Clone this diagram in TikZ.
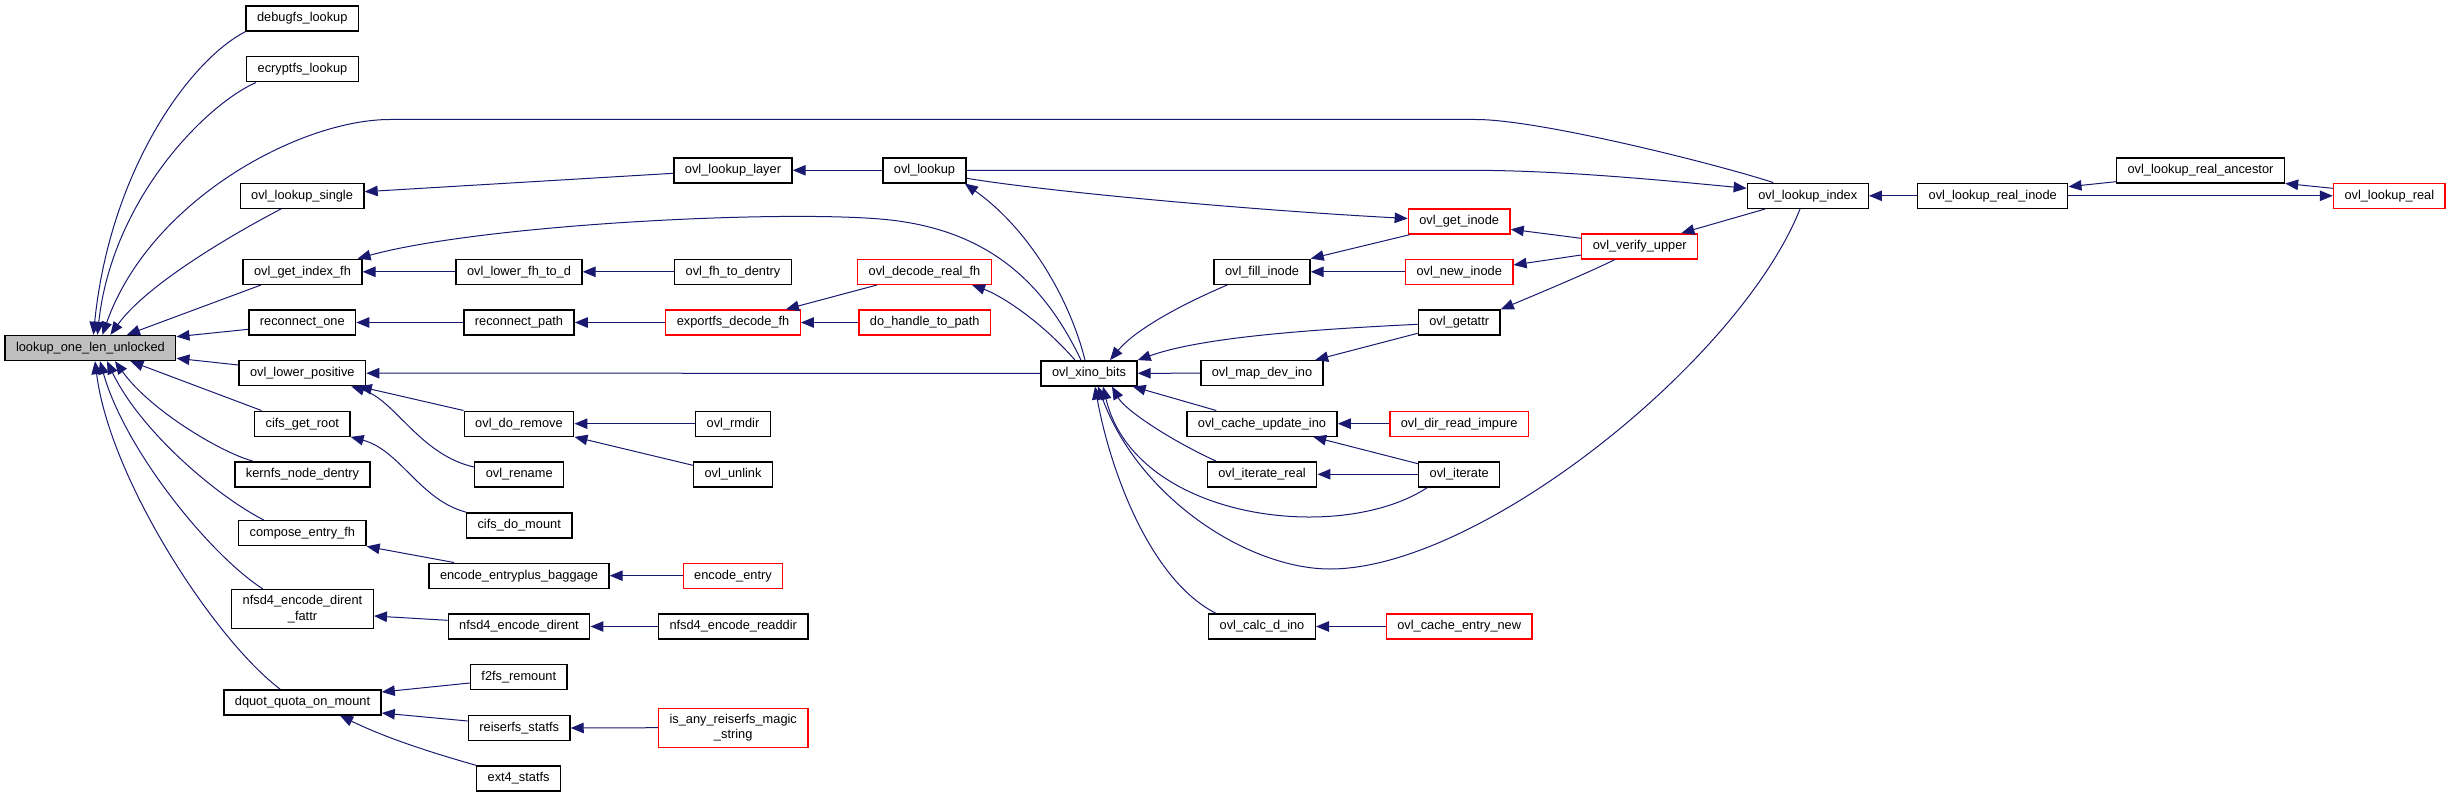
\documentclass[tikz,border=0pt]{standalone}
\usepackage{fontspec}
\setmainfont{Liberation Sans}
\usetikzlibrary{arrows.meta}
\definecolor{edgeblue}{RGB}{25,25,112}
\definecolor{rootgray}{RGB}{191,191,191}
\tikzset{
  fn/.style={draw=black,line width=1.4pt,fill=white,minimum height=25pt,
    inner xsep=11pt,inner ysep=0pt,font=\fontsize{12.8}{15.3}\selectfont},
  fnred/.style={fn,draw=red},
  fnroot/.style={fn,fill=rootgray},
  fntwo/.style={align=center,minimum height=39pt},
  call/.style={draw=edgeblue,line width=1pt,-{Triangle[length=13pt,width=10.5pt]}}
}

\begin{document}
\begin{tikzpicture}[x=1pt,y=-1pt]
  \useasboundingbox (0,0) rectangle (2451,797); % 画像と同じ大きさの枠

  \node[fnroot] (lookup) at (90.4,348) {lookup\_one\_len\_unlocked}; % 根の関数（灰色）

  % 第1列
  \node[fn] (debugfs) at (302.3,18.5) {debugfs\_lookup};
  \node[fn] (ecryptfs) at (302.5,69.3) {ecryptfs\_lookup};
  \node[fn] (lksingle) at (302.1,195.8) {ovl\_lookup\_single};
  \node[fn] (getidx) at (302.5,271.8) {ovl\_get\_index\_fh};
  \node[fn] (reconone) at (302.3,322.5) {reconnect\_one};
  \node[fn] (lowerpos) at (302.3,373.2) {ovl\_lower\_positive};
  \node[fn] (cifsroot) at (302.3,423.7) {cifs\_get\_root};
  \node[fn] (kernfs) at (302.5,474.3) {kernfs\_node\_dentry};
  \node[fn] (compose) at (302.3,533.2) {compose\_entry\_fh};
  \node[fn,fntwo] (fattr) at (302.5,609) {nfsd4\_encode\_dirent\\\_fattr}; % 2行の箱
  \node[fn] (dquot) at (302.5,702.3) {dquot\_quota\_on\_mount};

  % 第2列
  \node[fn] (lowerfh) at (519,271.8) {ovl\_lower\_fh\_to\_d};
  \node[fn] (reconpath) at (519,322.5) {reconnect\_path};
  \node[fn] (doremove) at (519,423.7) {ovl\_do\_remove};
  \node[fn] (rename) at (519.2,474.3) {ovl\_rename};
  \node[fn] (cifsmount) at (519.2,525.3) {cifs\_do\_mount};
  \node[fn] (baggage) at (519,575.7) {encode\_entryplus\_baggage};
  \node[fn] (dirent) at (519,626.5) {nfsd4\_encode\_dirent};
  \node[fn] (f2fs) at (518.8,677.2) {f2fs\_remount};
  \node[fn] (reiserfs) at (519.2,728) {reiserfs\_statfs};
  \node[fn] (ext4) at (518.6,778.5) {ext4\_statfs};

  % 第3列
  \node[fn] (lklayer) at (733,170.3) {ovl\_lookup\_layer};
  \node[fn] (fhdentry) at (733,271.8) {ovl\_fh\_to\_dentry};
  \node[fnred] (exportfs) at (733,322.5) {exportfs\_decode\_fh}; % 赤枠は省略された呼び出し元あり
  \node[fn] (rmdir) at (733,423.7) {ovl\_rmdir};
  \node[fn] (unlink) at (733,474.3) {ovl\_unlink};
  \node[fnred] (encentry) at (733,575.7) {encode\_entry};
  \node[fn] (readdir) at (733.2,626.5) {nfsd4\_encode\_readdir};
  \node[fnred,fntwo] (magic) at (733.2,727.7) {is\_any\_reiserfs\_magic\\\_string};

  % 第4・5列
  \node[fn] (ovllookup) at (924.5,170.3) {ovl\_lookup};
  \node[fnred] (decodefh) at (924.5,271.8) {ovl\_decode\_real\_fh};
  \node[fnred] (handle) at (924.7,322.5) {do\_handle\_to\_path};
  \node[fn] (xino) at (1089,373.3) {ovl\_xino\_bits};

  % 第6・7列
  \node[fn] (fillinode) at (1262,271.8) {ovl\_fill\_inode};
  \node[fn] (mapdev) at (1262,373.2) {ovl\_map\_dev\_ino};
  \node[fn] (cacheupd) at (1262,423.7) {ovl\_cache\_update\_ino};
  \node[fn] (iterreal) at (1262,474.3) {ovl\_iterate\_real};
  \node[fn] (calcdino) at (1262,626.5) {ovl\_calc\_d\_ino};
  \node[fnred] (getinode) at (1459.2,221.5) {ovl\_get\_inode};
  \node[fnred] (newinode) at (1459.2,271.8) {ovl\_new\_inode};
  \node[fn] (getattr) at (1459.2,322.5) {ovl\_getattr};
  \node[fnred] (dirimpure) at (1459.2,423.7) {ovl\_dir\_read\_impure};
  \node[fn] (iterate) at (1459.2,474.3) {ovl\_iterate};
  \node[fnred] (centrynew) at (1459.2,626.5) {ovl\_cache\_entry\_new};

  % 右側の列
  \node[fnred] (verify) at (1639.7,246.3) {ovl\_verify\_upper};
  \node[fn] (lkindex) at (1807.8,195.8) {ovl\_lookup\_index};
  \node[fn] (realinode) at (1992.7,195.8) {ovl\_lookup\_real\_inode};
  \node[fn] (ancestor) at (2200.5,170.3) {ovl\_lookup\_real\_ancestor};
  \node[fnred] (lkreal) at (2389.3,195.8) {ovl\_lookup\_real};

  % 根へ入る矢印（上側）
  \draw[call] (debugfs.south west) .. controls (190,60) and (110,170) .. ([xshift=3pt]lookup.north);
  \draw[call] ([xshift=10pt]ecryptfs.south west) .. controls (205,105) and (112,200) .. ([xshift=7pt]lookup.north);
  \draw[call] ([xshift=-34.5pt]lkindex.north) .. controls (1720,165) and (1540,119.5) .. (1476,119.5)
    -- (390,119.5) .. controls (300,119.5) and (150,200) .. ([xshift=12pt]lookup.north); % 最も長い辺
  \draw[call] ([xshift=41.5pt]lksingle.south west) .. controls (250,225) and (150,280) .. ([xshift=20pt]lookup.north);
  \draw[call] ([xshift=18.6pt]getidx.south west) -- ([xshift=36.6pt]lookup.north);
  % 根へ入る矢印（右側・下側）
  \draw[call] ([yshift=-6.8pt]reconone.west) -- ([yshift=11.3pt]lookup.east);
  \draw[call] ([yshift=8.2pt]lowerpos.west) -- ([yshift=-10.3pt]lookup.east);
  \draw[call] ([xshift=7.5pt]cifsroot.north west) -- ([xshift=40pt]lookup.south);
  \draw[call] ([xshift=18.5pt]kernfs.north west) .. controls (220,452) and (150,410) .. ([xshift=24.6pt]lookup.south);
  \draw[call] ([xshift=25.8pt]compose.north west) .. controls (215,495) and (140,430) .. ([xshift=16.6pt]lookup.south);
  \draw[call] ([xshift=31.7pt]fattr.north west) .. controls (210,555) and (125,450) .. ([xshift=9.6pt]lookup.south);
  \draw[call] ([xshift=56.9pt]dquot.north west) .. controls (215,640) and (110,480) .. ([xshift=4.6pt]lookup.south);

  % 第2列から第1列へ
  \draw[call] ([yshift=-3pt]lklayer.west) -- ([yshift=4.1pt]lksingle.east);
  \draw[call] (lowerfh.west) -- (getidx.east);
  \draw[call] (reconpath.west) -- (reconone.east);
  \draw[call] (doremove.north west) -- ([xshift=-7.5pt]lowerpos.south east);
  \draw[call] ([yshift=7.3pt]rename.west) .. controls (420,455) and (395,400) .. ([xshift=-15pt]lowerpos.south east);
  \draw[call] (cifsmount.north west) .. controls (420,500) and (400,450) .. (cifsroot.south east);
  \draw[call] ([xshift=25.7pt]baggage.north west) -- (compose.south east);
  \draw[call] ([yshift=6.2pt]dirent.west) -- ([yshift=-7pt]fattr.east);
  \draw[call] ([yshift=-5.8pt]f2fs.west) -- ([yshift=10.3pt]dquot.east);
  \draw[call] ([yshift=7pt]reiserfs.west) -- ([yshift=-10.7pt]dquot.east);
  \draw[call] (ext4.north west) .. controls (440,755) and (390,740) .. ([xshift=37.5pt]dquot.south);

  % 第3・4列から
  \draw[call] (ovllookup.west) -- (lklayer.east);
  \draw[call] (fhdentry.west) -- (lowerfh.east);
  \draw[call] (exportfs.west) -- (reconpath.east);
  \draw[call] (rmdir.west) -- (doremove.east);
  \draw[call] ([yshift=9pt]unlink.west) -- (doremove.south east);
  \draw[call] (encentry.west) -- (baggage.east);
  \draw[call] (readdir.west) -- (dirent.east);
  \draw[call] (magic.west) -- (reiserfs.east);
  \draw[call] ([xshift=20pt]decodefh.south west) -- ([xshift=-15pt]exportfs.north east);
  \draw[call] (handle.west) -- (exportfs.east);

  % ovl_xino_bits から出る矢印
  \draw[call] ([xshift=-8pt]xino.north) .. controls (1045,285) and (990,228) .. (880,219)
    .. controls (770,210) and (480,225) .. ([xshift=-5pt]getidx.north east);
  \draw[call] ([xshift=-14pt]xino.north) .. controls (1040,320) and (1000,295) .. ([xshift=-20pt]decodefh.south east);
  \draw[call] ([xshift=-4pt]xino.north) .. controls (1070,300) and (1030,230) .. ([xshift=-2pt]ovllookup.south east);
  \draw[call] (xino.west) -- (lowerpos.east);

  % ovl_xino_bits へ入る矢印
  \draw[call] ([xshift=14pt]fillinode.south west) .. controls (1180,305) and (1135,330) .. ([xshift=21pt]xino.north);
  \draw[call] ([yshift=-1.8pt]getattr.west) .. controls (1300,330) and (1200,338) .. (xino.north east);
  \draw[call] (mapdev.west) -- (xino.east);
  \draw[call] ([xshift=30pt]cacheupd.north west) -- ([xshift=-5pt]xino.south east);
  \draw[call] ([xshift=9.5pt]iterreal.north west) .. controls (1170,440) and (1125,410) .. ([xshift=23pt]xino.south);
  \draw[call] ([xshift=9.5pt]iterate.south west) .. controls (1340,545) and (1135,520) .. ([xshift=14pt]xino.south);
  \draw[call] ([xshift=-7.8pt]lkindex.south) .. controls (1740,360) and (1480,569) .. (1330,569)
    .. controls (1250,569) and (1140,500) .. ([xshift=9pt]xino.south); % 下を大きく回る辺
  \draw[call] ([xshift=8pt]calcdino.north west) .. controls (1150,580) and (1110,470) .. ([xshift=6pt]xino.south);

  % 第6・7・8列
  \draw[call] ([yshift=-8pt]ovllookup.east) .. controls (1050,192) and (1250,210) .. ([yshift=3pt]getinode.west);
  \draw[call] ([xshift=2pt]getinode.south west) -- (fillinode.north east);
  \draw[call] (newinode.west) -- (fillinode.east);
  \draw[call] ([yshift=8pt]verify.west) -- ([yshift=-7.8pt]getinode.east);
  \draw[call] ([yshift=-8.7pt]verify.west) -- ([yshift=6.8pt]newinode.east);
  \draw[call] ([xshift=-24.7pt]verify.south) .. controls (1590,272) and (1535,295) .. (getattr.north east);
  \draw[call] ([yshift=-10.8pt]getattr.west) -- ([xshift=-8.7pt]mapdev.north east);
  \draw[call] (dirimpure.west) -- (cacheupd.east);
  \draw[call] ([yshift=10.6pt]iterate.west) -- ([xshift=-24.5pt]cacheupd.south east);
  \draw[call] (iterate.west) -- (iterreal.east);
  \draw[call] (centrynew.west) -- (calcdino.east);

  % ovl_lookup_index まわり
  \draw[call] ([xshift=18.5pt]lkindex.south west) -- ([xshift=-17pt]verify.north east);
  \draw[call] (ovllookup.east) -- (1470,170.3) .. controls (1560,170.3) and (1660,180) .. ([yshift=7.5pt]lkindex.west);
  \draw[call] (realinode.west) -- (lkindex.east);
  \draw[call] ([yshift=-11.4pt]ancestor.west) -- ([yshift=9.1pt]realinode.east);
  \draw[call] ([yshift=7.5pt]lkreal.west) -- (ancestor.south east);
  \draw[call] (realinode.east) -- (lkreal.west); % 右向きの矢印
\end{tikzpicture}
\end{document}
